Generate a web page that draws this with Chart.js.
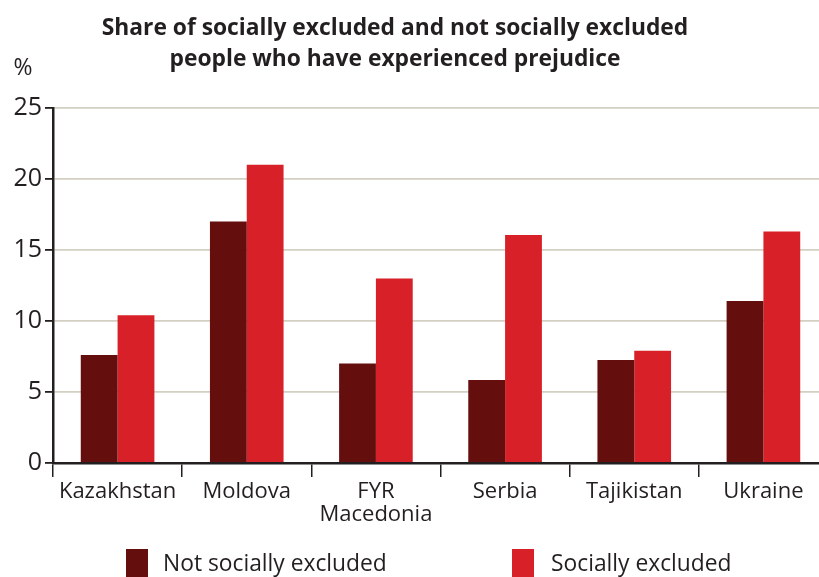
<!DOCTYPE html>
<html>
<head>
<meta charset="utf-8">
<script src="https://cdn.jsdelivr.net/npm/chart.js@4/dist/chart.umd.min.js"></script>
<style>
  html, body { margin: 0; padding: 0; background: #fff; overflow: hidden; }
  #wrap { position: relative; width: 830px; height: 577px; }
</style>
</head>
<body>
<div id="wrap"><canvas id="cv"></canvas></div>
<script>
const countries = ['Kazakhstan', 'Moldova', ['FYR', 'Macedonia'], 'Serbia', 'Tajikistan', 'Ukraine'];
const notExcluded = [7.6, 17.0, 7.0, 5.85, 7.25, 11.4];
const excluded = [10.4, 21.0, 13.0, 16.05, 7.9, 16.3];
const yTicks = [0, 5, 10, 15, 20, 25];
const titleLines = ['Share of socially excluded and not socially excluded', 'people who have experienced prejudice'];
const seriesNames = ['Not socially excluded', 'Socially excluded'];
const colors = ['#650e0e', '#d72028'];
const FONT = '"Open Sans", sans-serif';

// title, % label and bottom legend drawn by hand
const extras = {
  id: 'extras',
  afterDraw(chart) {
    const ctx = chart.ctx;
    ctx.save();
    ctx.fillStyle = '#231f20';
    ctx.textAlign = 'center';
    ctx.textBaseline = 'middle';
    ctx.font = 'bold 22.8px ' + FONT;
    ctx.fillText(titleLines[0], 395, 29);
    ctx.fillText(titleLines[1], 395, 60);
    ctx.font = '23px ' + FONT;
    ctx.fillText('%', 23, 68);
    const lx = [126, 512];
    ctx.textAlign = 'left';
    ctx.font = '22.8px ' + FONT;
    chart.data.datasets.forEach((ds, i) => {
      ctx.fillStyle = ds.backgroundColor;
      ctx.fillRect(lx[i], 549, 22, 28);
      ctx.fillStyle = '#231f20';
      ctx.fillText(ds.label, lx[i] + 37 + i * 2, 565);
    });
    ctx.restore();
  }
};

new Chart(document.getElementById('cv'), {
  type: 'bar',
  data: {
    labels: countries,
    datasets: [
      { label: seriesNames[0], data: notExcluded, backgroundColor: colors[0] },
      { label: seriesNames[1], data: excluded, backgroundColor: colors[1] }
    ]
  },
  options: {
    responsive: true,
    maintainAspectRatio: false,
    animation: false,
    layout: { padding: { top: 108, left: 0, right: 2, bottom: 0 } },
    datasets: { bar: { categoryPercentage: 0.57, barPercentage: 1.0 } },
    plugins: {
      legend: { display: false },
      title: { display: false },
      tooltip: { enabled: false }
    },
    scales: {
      x: {
        offset: true,
        grid: { offset: true, drawOnChartArea: false, tickLength: 14, color: '#231f20', lineWidth: 1.5 },
        border: { color: '#231f20', width: 2.5 },
        ticks: { color: '#231f20', padding: 3, maxRotation: 0, autoSkip: false,
                 font: { family: FONT, size: 22, lineHeight: 1.05 } },
        afterFit(scale) { scale.height = 114; }
      },
      y: {
        min: 0,
        max: 25,
        afterBuildTicks(scale) { scale.ticks = yTicks.map(v => ({ value: v })); },
        grid: { color: '#d3cfc3', lineWidth: 1.8, tickLength: 8, tickColor: '#231f20' },
        border: { color: '#231f20', width: 2.5 },
        ticks: { color: '#231f20', font: { family: FONT, size: 25 }, padding: 3 },
        afterFit(scale) { scale.width = 53; }
      }
    }
  },
  plugins: [extras]
});
</script>
</body>
</html>
